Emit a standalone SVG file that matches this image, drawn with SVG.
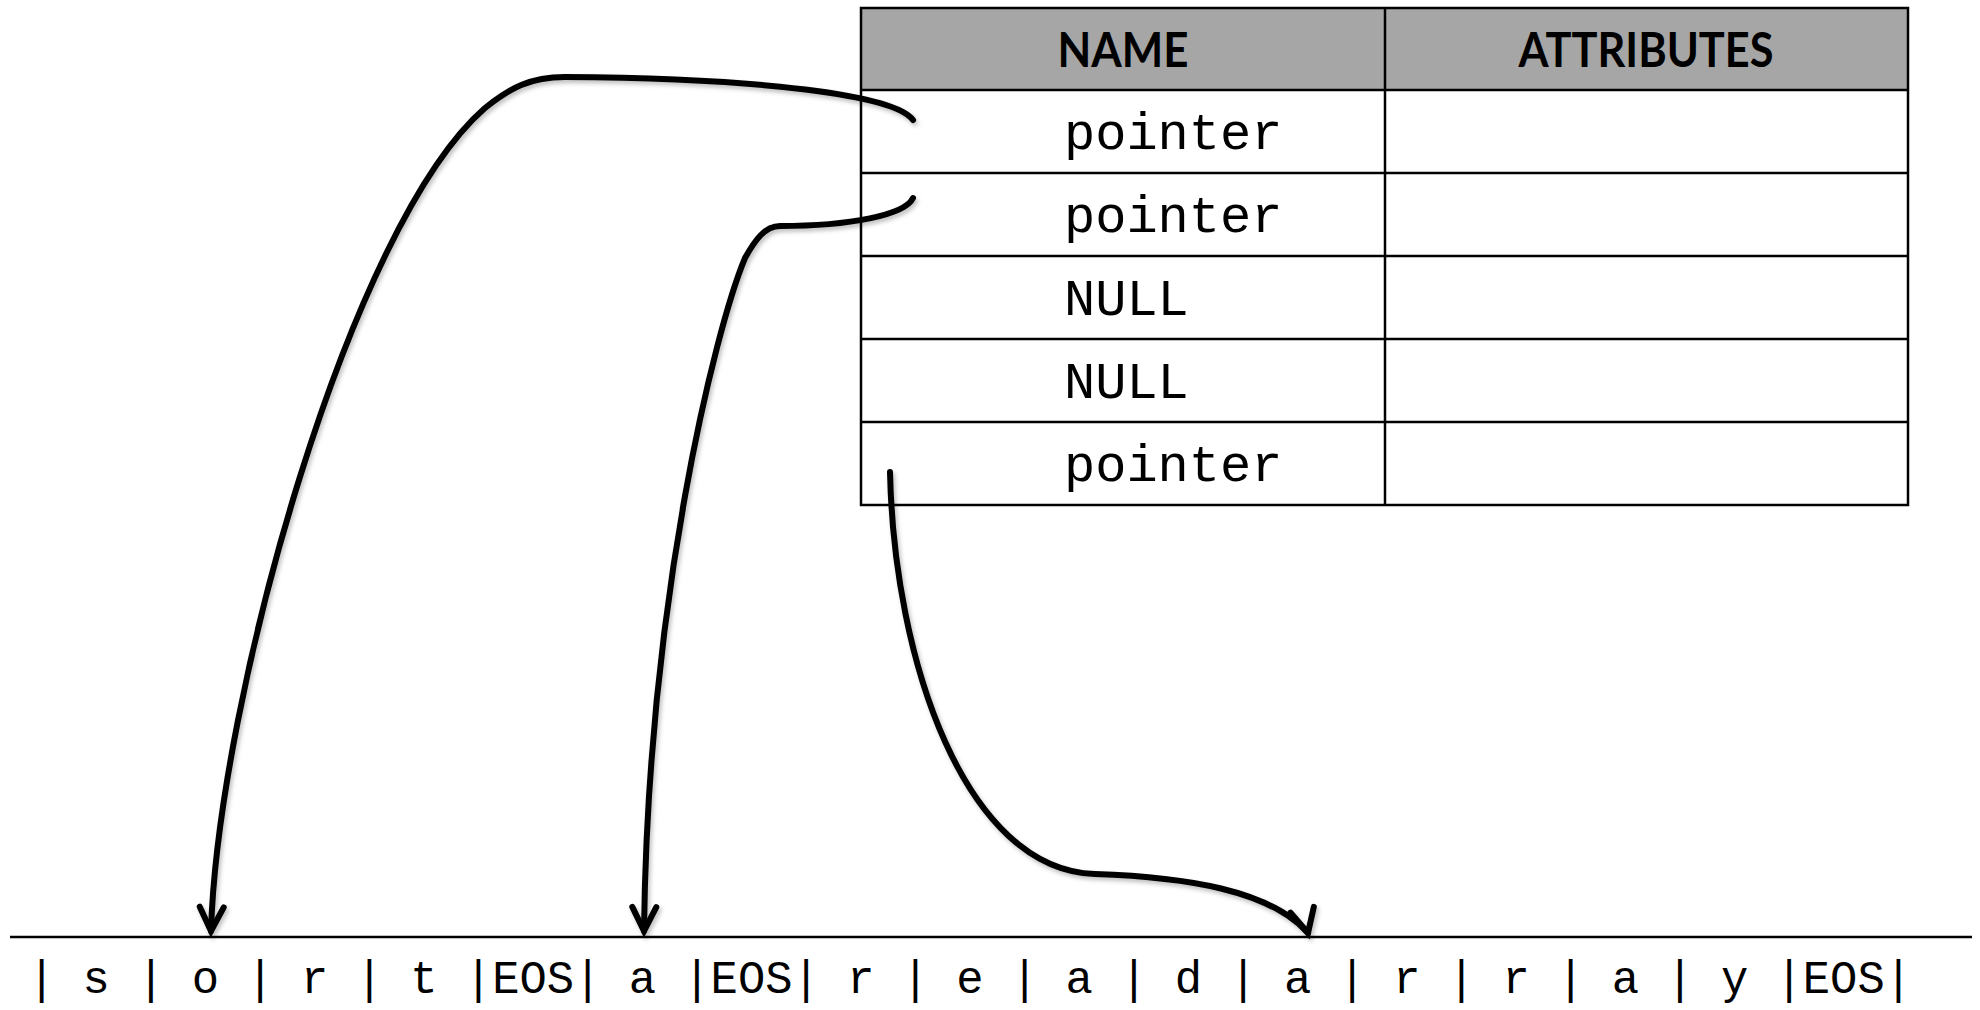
<svg xmlns="http://www.w3.org/2000/svg" width="1980" height="1010" viewBox="0 0 1980 1010">
<style>
.grid{stroke:#000;stroke-width:2.5;fill:none}
.hdr{font-family:Lato,"Open Sans","Liberation Sans",sans-serif;font-weight:bold;font-size:48px;fill:#000;text-anchor:middle}
.cell{font-family:"Liberation Mono","DejaVu Sans Mono",monospace;font-size:52px;fill:#000}
.str{font-family:"Liberation Mono","DejaVu Sans Mono",monospace;font-size:45.5px;fill:#000}
.conn{stroke:#000;stroke-width:6;fill:none;stroke-linecap:round;filter:url(#sh)}
</style>
<defs>
<filter id="sh" x="-20%" y="-20%" width="140%" height="140%">
<feDropShadow dx="2" dy="3" stdDeviation="2" flood-color="#000" flood-opacity="0.25"/>
</filter>
<marker id="arr" markerUnits="userSpaceOnUse" orient="auto" refX="0" refY="0" markerWidth="60" markerHeight="60" viewBox="-30 -30 60 60" overflow="visible">
<path d="M-24,-12 L0,0 L-24,12" fill="none" stroke="#000" stroke-width="6" stroke-linejoin="miter" stroke-linecap="round"/>
</marker>
<marker id="arr3" markerUnits="userSpaceOnUse" orient="76" refX="0" refY="0" markerWidth="60" markerHeight="60" viewBox="-30 -30 60 60" overflow="visible">
<path d="M-24,-12 L0,0 L-24,12" fill="none" stroke="#000" stroke-width="6" stroke-linejoin="miter" stroke-linecap="round"/>
</marker>
</defs>
<rect width="1980" height="1010" fill="#fff"/>
<g id="table">
<rect x="861" y="8" width="1047" height="82" fill="#a6a6a6"/>
<rect x="861" y="8" width="1047" height="497" class="grid"/>
<line x1="861" y1="90" x2="1908" y2="90" class="grid"/>
<line x1="861" y1="173" x2="1908" y2="173" class="grid"/>
<line x1="861" y1="256" x2="1908" y2="256" class="grid"/>
<line x1="861" y1="339" x2="1908" y2="339" class="grid"/>
<line x1="861" y1="422" x2="1908" y2="422" class="grid"/>
<line x1="1385" y1="8" x2="1385" y2="505" class="grid"/>
</g>
<g id="header-name"><text x="1123" y="67" class="hdr" textLength="131" lengthAdjust="spacingAndGlyphs">NAME</text></g>
<g id="header-attributes"><text x="1646" y="67" class="hdr" textLength="255" lengthAdjust="spacingAndGlyphs">ATTRIBUTES</text></g>
<g id="row1"><text x="1064" y="149" class="cell">pointer</text></g>
<g id="row2"><text x="1064" y="232" class="cell">pointer</text></g>
<g id="row3"><text x="1064" y="315" class="cell">NULL</text></g>
<g id="row4"><text x="1064" y="398" class="cell">NULL</text></g>
<g id="row5"><text x="1064" y="481" class="cell">pointer</text></g>
<g id="string">
<line x1="10" y1="937" x2="1972" y2="937" stroke="#000" stroke-width="2.5"/>
<text x="28" y="993" class="str">| s | o | r | t |EOS| a |EOS| r | e | a | d | a | r | r | a | y |EOS|</text>
</g>
<g id="connectors">
<path class="conn" marker-end="url(#arr)" d="M913,120 C895,95 760,78 565,77 C530,77 510,88 485,108 C350,225 218,700 211,931"/>
<path class="conn" marker-end="url(#arr)" d="M913,198 C905,215 850,226 780,226 C765,226 755,240 745,258 C715,330 648,600 644,931"/>
<path class="conn" marker-end="url(#arr3)" d="M890,472 C894,660 965,870 1095,874 C1185,877 1270,890 1308,933"/>
</g>
</svg>
